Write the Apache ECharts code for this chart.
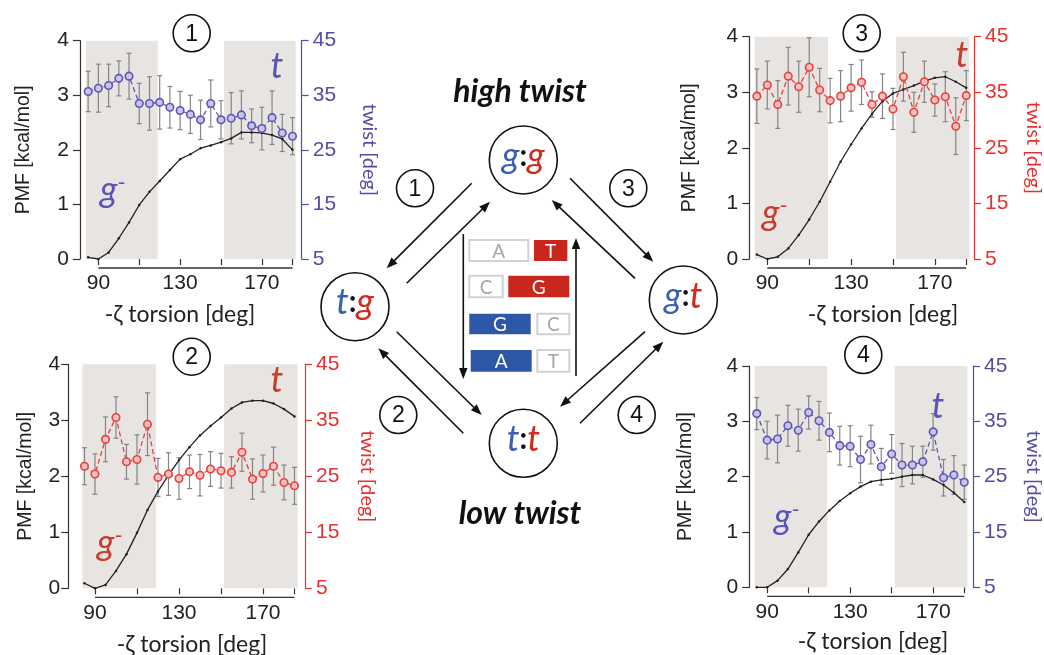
<!DOCTYPE html>
<html><head><meta charset="utf-8">
<script src="https://cdn.jsdelivr.net/npm/echarts@6/dist/echarts.min.js"></script>
<style>html,body{margin:0;padding:0;background:#fff}#c{width:1044px;height:655px}</style>
</head><body><div id="c"></div>
<script>
// ---------------- data ----------------
const torsion = [85,90,95,100,105,110,115,120,125,130,135,140,145,150,155,160,165,170,175,180,185];
const xTickValues = [90,110,130,150,170,185];
const xLabelValues = [90,130,170];
const shadeRanges = [[84,119],[151.5,186.5]];

const pmf1   = [0.03,0.00,0.12,0.38,0.67,0.99,1.23,1.43,1.63,1.83,1.92,2.03,2.08,2.14,2.21,2.32,2.32,2.31,2.27,2.20,2.00];
const twist1 = [35.7,36.3,36.8,38.1,38.5,33.5,33.5,33.7,32.8,32.2,31.5,30.5,33.5,30.5,30.8,31.4,29.4,28.9,30.9,28.1,27.5];
const err1   = [3.7,4.4,3.9,3.2,4.2,3.7,4.9,4.9,3.8,3.5,3.5,3.6,4.3,3.5,4.7,4.4,3.1,3.9,4.9,3.4,3.4];

const pmf2   = [0.09,0.00,0.06,0.31,0.61,0.99,1.40,1.73,2.02,2.29,2.52,2.73,2.90,3.05,3.21,3.32,3.35,3.35,3.30,3.20,3.07];
const twist2 = [26.8,25.4,31.6,35.5,27.6,28.0,34.3,24.8,25.4,24.6,25.8,25.2,26.3,26.0,25.7,29.3,24.5,25.5,26.8,23.9,23.3];
const err2   = [3.3,3.6,4.0,3.7,3.1,4.4,5.6,3.4,3.8,3.7,3.0,3.7,3.1,3.1,2.8,3.4,3.6,3.3,3.4,3.1,3.3];

const pmf3   = [0.08,0.00,0.04,0.19,0.43,0.71,1.03,1.39,1.75,2.06,2.35,2.61,2.84,2.98,3.05,3.12,3.20,3.26,3.28,3.19,3.08];
const twist3 = [34.3,36.3,32.8,37.9,36.0,39.5,35.4,33.5,34.3,35.8,36.8,32.8,34.3,32.0,37.8,31.4,36.9,33.6,34.2,28.9,34.4];
const err3   = [4.9,4.3,4.3,5.2,4.6,5.3,3.9,4.0,4.6,4.2,4.0,2.3,4.0,3.7,4.4,3.6,3.7,2.9,4.5,5.1,4.5];

const pmf4   = [0.00,0.00,0.12,0.33,0.63,0.95,1.19,1.39,1.56,1.70,1.82,1.91,1.94,1.96,2.00,2.03,2.03,1.95,1.85,1.71,1.54];
const twist4 = [36.4,31.6,31.8,34.2,33.4,36.6,35.1,33.0,30.6,30.5,28.1,30.8,26.8,29.1,27.1,27.1,27.7,33.1,24.8,25.3,24.0];
const err4   = [2.9,3.4,4.3,3.7,3.8,3.0,3.5,3.5,3.5,3.7,4.2,3.5,3.3,3.5,3.9,3.4,2.8,3.3,3.3,3.5,3.1];

const pmfTicks = [0,1,2,3,4];
const twistTicks = [5,15,25,35,45];

// ---------------- styling / layout ----------------
const BLUE = {axis:'#544ea3', line:'#5e56b4', fill:'#c9c4ea', text:'#5b54b6'};
const RED  = {axis:'#e6322e', line:'#e8413c', fill:'#f7c3c0', text:'#c4402c'};
const panels = [
  {grid:{left:80,   top:40.7, width:221.7, height:218.3}, xmin:81,   xmax:189.5, c:BLUE, pmf:pmf1, tw:twist1, er:err1, pmfGap:46, twGap:58, lm:11},
  {grid:{left:68.3, top:364.3,width:236.7, height:224},   xmin:77.3, xmax:190,   c:RED,  pmf:pmf2, tw:twist2, er:err2, pmfGap:33, twGap:52, lm:8},
  {grid:{left:749.3,top:36.7, width:225.7, height:222.3}, xmin:81.4, xmax:188.7, c:RED,  pmf:pmf3, tw:twist3, er:err3, pmfGap:50, twGap:49, lm:11},
  {grid:{left:749.3,top:366,  width:224.7, height:221.3}, xmin:81.4, xmax:189.2, c:BLUE, pmf:pmf4, tw:twist4, er:err4, pmfGap:54, twGap:50, lm:11}
];
const NUMF = 'Liberation Sans, Arial, sans-serif';
const HUMF = 'Lato, Open Sans, sans-serif';

const grids = [], xAxes = [], yAxes = [], series = [];
panels.forEach((p, i) => {
  grids.push(Object.assign({containLabel:false}, p.grid));
  xAxes.push({
    type:'value', gridIndex:i, min:p.xmin, max:p.xmax, offset:9,
    axisLine:{show:false},
    axisTick:{show:true, length:6, customValues:xTickValues, lineStyle:{color:'#333', width:1.2}},
    axisLabel:{show:true, customValues:xLabelValues, fontSize:21, fontFamily:NUMF, color:'#222', margin:5},
    splitLine:{show:false}
  });
  yAxes.push({
    type:'value', gridIndex:i, position:'left', min:pmfTicks[0], max:pmfTicks[pmfTicks.length-1], interval:1,
    axisLine:{show:true, lineStyle:{color:'#333', width:1.2}},
    axisTick:{show:true, length:7, lineStyle:{color:'#333', width:1.2}},
    axisLabel:{fontSize:21, fontFamily:NUMF, color:'#222', margin:p.lm},
    splitLine:{show:false},
    name:'PMF [kcal/mol]', nameLocation:'middle', nameGap:p.pmfGap, nameRotate:90,
    nameTextStyle:{fontSize:19.5, fontFamily:NUMF, color:'#222'}
  });
  yAxes.push({
    type:'value', gridIndex:i, position:'right', min:twistTicks[0], max:twistTicks[twistTicks.length-1], interval:10,
    axisLine:{show:true, lineStyle:{color:p.c.axis, width:1.2}},
    axisTick:{show:true, length:7, lineStyle:{color:p.c.axis, width:1.2}},
    axisLabel:{fontSize:21, fontFamily:NUMF, color:p.c.axis, margin:11},
    splitLine:{show:false},
    name:'twist [deg]', nameLocation:'middle', nameGap:p.twGap, nameRotate:-90,
    nameTextStyle:{fontSize:20, fontFamily:HUMF, color:p.c.axis}
  });
  // shading
  series.push({
    type:'line', xAxisIndex:i, yAxisIndex:2*i, data:[], z:0, silent:true,
    markArea:{silent:true, itemStyle:{color:'#e8e4e2'},
      data: shadeRanges.map(r => [{xAxis:r[0], yAxis:-0.07},{xAxis:r[1], yAxis:4}])}
  });
  // error bars
  series.push({
    type:'custom', xAxisIndex:i, yAxisIndex:2*i+1, z:2, silent:true,
    data: torsion.map((x,k) => [x, p.tw[k]-p.er[k], p.tw[k]+p.er[k]]),
    encode:{x:0, y:[1,2]},
    renderItem:(params, api) => {
      const x = api.value(0), a = api.coord([x, api.value(1)]), b = api.coord([x, api.value(2)]);
      const w = 2.5, st = {stroke:'#858585', lineWidth:1.2};
      return {type:'group', children:[
        {type:'line', shape:{x1:a[0],y1:a[1],x2:b[0],y2:b[1]}, style:st},
        {type:'line', shape:{x1:a[0]-w,y1:a[1],x2:a[0]+w,y2:a[1]}, style:st},
        {type:'line', shape:{x1:b[0]-w,y1:b[1],x2:b[0]+w,y2:b[1]}, style:st}
      ]};
    }
  });
  // PMF
  series.push({
    type:'line', xAxisIndex:i, yAxisIndex:2*i, z:3, silent:true,
    data: torsion.map((x,k) => [x, p.pmf[k]]),
    symbol:'circle', symbolSize:2.5, showSymbol:true,
    lineStyle:{color:'#222', width:1.3}, itemStyle:{color:'#222'}
  });
  // twist
  series.push({
    type:'line', xAxisIndex:i, yAxisIndex:2*i+1, z:4, silent:true,
    data: torsion.map((x,k) => [x, p.tw[k]]),
    symbol:'circle', symbolSize:7.5, showSymbol:true,
    lineStyle:{color:p.c.line, width:1.3, type:[5,3]},
    itemStyle:{color:p.c.fill, borderColor:p.c.line, borderWidth:1.6}
  });
});

const chart = echarts.init(document.getElementById('c'), null, {renderer:'canvas'});
chart.setOption({
  backgroundColor:'#ffffff', animation:false,
  grid:grids, xAxis:xAxes, yAxis:yAxes, series:series
});

// ---------------- decorations ----------------
const G = [];
function txt(x, y, text, opt) {
  const s = Object.assign({text:text, x:x, y:y, fill:'#111', fontSize:20, fontFamily:HUMF,
    align:'center', verticalAlign:'middle', textAlign:'center', textVerticalAlign:'middle'}, opt || {});
  G.push({type:'text', z:20, style:s});
}
function circ(cx, cy, r, lw) {
  G.push({type:'circle', z:19, shape:{cx:cx, cy:cy, r:r}, style:{fill:'#fff', stroke:'#111', lineWidth:lw || 1.6}});
}
function numCircle(cx, cy, n) {
  circ(cx, cy, 18.5, 1.6);
  txt(cx, cy + 1, String(n), {fontSize:23, fontFamily:NUMF, fill:'#111'});
}
function arrow(x1, y1, x2, y2) {
  const a = Math.atan2(y2 - y1, x2 - x1), L = 11, W = 4.2;
  const c = Math.cos(a), s = Math.sin(a);
  const bx = x2 - L * c, by = y2 - L * s;
  G.push({type:'line', z:18, shape:{x1:x1, y1:y1, x2:bx + 2*c, y2:by + 2*s}, style:{stroke:'#111', lineWidth:1.6}});
  G.push({type:'polygon', z:18, shape:{points:[[x2, y2], [bx + W*s, by - W*c], [bx - W*s, by + W*c]]}, style:{fill:'#111'}});
}
function box(x, y, w, h, label, kind) {
  const fillMap = {red:'#c9261d', blue:'#2f57a7', gray:'#ffffff'};
  G.push({type:'rect', z:18, shape:{x:x, y:y, width:w, height:h},
    style:{fill:fillMap[kind], stroke: kind === 'gray' ? '#d2d2d2' : fillMap[kind], lineWidth: kind === 'gray' ? 2 : 0}});
  txt(x + w/2, y + h/2 + 1, label, {fontSize:19, fill: kind === 'gray' ? '#a6a6a6' : '#ffffff'});
}

// x axis lines (from 90 to 185 on each panel, offset below the plot)
function toNum(v) { return Array.isArray(v) ? v[0] : v; }
panels.forEach((p, i) => {
  const g = p.grid;
  const lin = v => g.left + (v - p.xmin) / (p.xmax - p.xmin) * g.width;
  let xa = toNum(chart.convertToPixel({xAxisIndex:i}, xTickValues[0]));
  let xb = toNum(chart.convertToPixel({xAxisIndex:i}, xTickValues[xTickValues.length-1]));
  if (!isFinite(xa)) xa = lin(xTickValues[0]);
  if (!isFinite(xb)) xb = lin(xTickValues[xTickValues.length-1]);
  const y0 = g.top + g.height + 9;
  G.push({type:'line', z:18, shape:{x1:xa, y1:y0, x2:xb, y2:y0}, style:{stroke:'#333', lineWidth:1.3}});
});

// x axis titles
[[180,315],[192,645],[883,315],[873,642]].forEach(q => txt(q[0], q[1], '-ζ torsion [deg]', {fontSize:23, fill:'#222'}));

// panel number circles
numCircle(191.7, 33.3, 1); numCircle(191.7, 356.7, 2); numCircle(861.7, 33.3, 3); numCircle(863.3, 355, 4);

// in-panel state labels
function gMinus(x, y, col) {
  G.push({type:'text', z:20, style:{
    x:x, y:y, align:'left', verticalAlign:'middle', textAlign:'left', textVerticalAlign:'middle',
    text:'{g|g}{m|-}',
    rich:{
      g:{fontSize:36, fontStyle:'italic', fontFamily:HUMF, fill:col, color:col},
      m:{fontSize:22, fontFamily:HUMF, fill:col, color:col, verticalAlign:'top'}
    }
  }});
}
gMinus(100,190,BLUE.text); gMinus(97,543,RED.text); gMinus(762,213,RED.text); gMinus(774,517,BLUE.text);
const tl = [[277,66,BLUE],[277,380,RED],[962,55,RED],[938,406,BLUE]];
tl.forEach(q => txt(q[0], q[1], 't', {fontSize:36, fontStyle:'italic', fill:q[2].text}));

// central diagram
txt(520, 92, 'high twist', {fontSize:32, fontStyle:'italic', fontWeight:'bold', fill:'#111'});
txt(520, 514, 'low twist', {fontSize:32, fontStyle:'italic', fontWeight:'bold', fill:'#111'});

arrow(471.7,183.3, 386.7,268.3);
arrow(406.7,283.3, 490,201.7);
arrow(570,178.3, 653.3,261.7);
arrow(635,278.3, 551.7,200);
arrow(396.7,331.7, 481.7,415);
arrow(463.3,433.3, 378.3,348.3);
arrow(645,331.7, 560,406.7);
arrow(580,423.3, 663.3,341.7);
arrow(463.3,234, 463.3,379);
arrow(576,376, 576,238);

box(469.3,240,59,21,'A','gray');  box(534,240,33.3,21,'T','red');
box(469.3,275.7,33.4,21.6,'C','gray'); box(508.3,275.7,61,21.6,'G','red');
box(469.3,313.7,61.4,20.6,'G','blue'); box(537.3,313.7,32,20.6,'C','gray');
box(470.7,350,61,21.7,'A','blue'); box(537.3,350,32,21.7,'T','gray');

numCircle(415,188.3,1); numCircle(628.3,188.3,3); numCircle(398.3,415,2); numCircle(636.7,415,4);

const CB = '#3a5fb6', CR = '#d12a1f';
function stateCircle(cx, cy, a, ca, b, cb) {
  circ(cx, cy, 34, 1.6);
  G.push({type:'text', z:21, style:{
    x:cx, y:cy - 4, align:'center', verticalAlign:'middle', textAlign:'center', textVerticalAlign:'middle',
    text:'{a|' + a + '}{k|:}{b|' + b + '}',
    rich:{
      a:{fontSize:36, fontStyle:'italic', fontFamily:HUMF, fill:ca, color:ca},
      k:{fontSize:30, fontWeight:'bold', fontFamily:HUMF, fill:'#111', color:'#111'},
      b:{fontSize:36, fontStyle:'italic', fontFamily:HUMF, fill:cb, color:cb}
    }
  }});
}
stateCircle(523.3,160,'g',CB,'g',CR);
stateCircle(355,306.7,'t',CB,'g',CR);
stateCircle(683.3,300,'g',CB,'t',CR);
stateCircle(523.3,443.3,'t',CB,'t',CR);

chart.setOption({graphic:{elements:G}});
</script>
</body></html>
